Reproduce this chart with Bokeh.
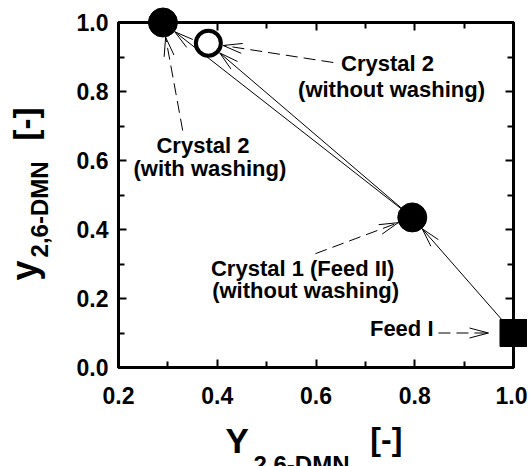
import numpy as np
from bokeh.plotting import figure
from bokeh.models import Range1d, LinearAxis, FixedTicker, NumeralTickFormatter
from bokeh.core.properties import value
from bokeh.embed import file_html
from bokeh.resources import INLINE

# ---------------- data ----------------
point_names = ["Feed I", "Crystal 1 (Feed II)", "Crystal 2 (without washing)", "Crystal 2 (with washing)"]
Y_26DMN = [1.00, 0.795, 0.382, 0.29]      # x values
y_26DMN = [0.10, 0.435, 0.94, 1.00]       # y values
marker_kind = ["square", "circle", "circle", "circle"]

# process arrows (index from -> index to)
process_links = [(0, 1), (1, 3), (1, 2)]

x_ticks = [0.2, 0.4, 0.6, 0.8, 1.0]
x_minor = [0.3, 0.5, 0.7, 0.9]
y_ticks = [0.0, 0.2, 0.4, 0.6, 0.8, 1.0]
y_minor = [0.1, 0.3, 0.5, 0.7, 0.9]

# annotation texts: lines, line anchors (data), align, dashed-arrow start (data), target index
annotations = [
    (["Crystal 2", "(without washing)"], [(0.745, 0.861), (0.753, 0.786)], "center", (0.635, 0.884), 2),
    (["Crystal 2", "(with washing)"], [(0.371, 0.623), (0.385, 0.557)], "center", (0.330, 0.687), 3),
    (["Crystal 1 (Feed II)", "(without washing)"], [(0.573, 0.267), (0.579, 0.203)], "center", (0.599, 0.330), 1),
    (["Feed I"], [(0.838, 0.093)], "right", (0.848, 0.10), 0),
]

# axis titles: pieces (text, x, y, size px) in data units (baseline anchors)
x_title = [("Y", 0.4167, -0.246, 35), ("2,6-DMN", 0.4734, -0.304, 24), ("[-]", 0.710, -0.238, 32)]
y_title = [("y", 0.034, 0.252, 36), ("2,6-DMN", 0.056, 0.319, 24), ("[-]", 0.034, 0.658, 33)]

# ---------------- layout ----------------
X0, X1, Y0, Y1 = 0.2, 1.0, 0.0, 1.0
FW, FH = 395, 345
SX = FW / (X1 - X0)
SY = FH / (Y1 - Y0)
FONT = "Liberation Sans"
BASE_SHIFT = 0.33   # em: lift of the drawn baseline

p = figure(frame_width=FW, frame_height=FH,
           x_range=Range1d(X0, X1), y_range=Range1d(Y0, Y1),
           min_border_left=118, min_border_right=14, min_border_top=22, min_border_bottom=99,
           output_backend="svg", toolbar_location=None)
p.background_fill_color = "white"
p.border_fill_color = "white"
p.grid.visible = False
p.outline_line_color = "black"
p.outline_line_width = 3

def style_axis(ax, ticks, minor, show_labels, standoff=0):
    ax.ticker = FixedTicker(ticks=ticks, minor_ticks=minor)
    ax.formatter = NumeralTickFormatter(format="0.0")
    ax.axis_line_width = 3
    ax.axis_line_color = "black"
    ax.major_tick_in = 8
    ax.major_tick_out = 0
    ax.minor_tick_in = 6
    ax.minor_tick_out = 0
    ax.major_tick_line_width = 2
    ax.minor_tick_line_width = 2
    ax.major_tick_line_color = "black"
    ax.minor_tick_line_color = "black"
    ax.major_label_text_font = FONT
    ax.major_label_text_font_style = "bold"
    ax.major_label_text_color = "black"
    ax.major_label_standoff = standoff
    ax.major_label_text_font_size = "23px" if show_labels else "0px"

style_axis(p.xaxis[0], x_ticks, x_minor, True, 19)
style_axis(p.yaxis[0], y_ticks, y_minor, True, 10)

top_ax = LinearAxis()
style_axis(top_ax, x_ticks, x_minor, False)
p.add_layout(top_ax, "above")
right_ax = LinearAxis()
style_axis(right_ax, y_ticks, y_minor, False)
p.add_layout(right_ax, "right")

# ---------------- arrows ----------------
def to_px(x, y):
    return (x - X0) * SX, (y - Y0) * SY

def to_data(u, v):
    return u / SX + X0, v / SY + Y0

def arrow_geom(x0, y0, x1, y1, cut_start, cut_end, L=19.0, W=5.0):
    u0, v0 = to_px(x0, y0)
    u1, v1 = to_px(x1, y1)
    d = np.hypot(u1 - u0, v1 - v0)
    ux, uy = (u1 - u0) / d, (v1 - v0) / d
    su, sv = u0 + ux * cut_start, v0 + uy * cut_start
    tu, tv = u1 - ux * cut_end, v1 - uy * cut_end
    bu, bv = tu - ux * L, tv - uy * L
    w1 = (bu - uy * W, bv + ux * W)
    w2 = (bu + uy * W, bv - ux * W)
    shaft = (to_data(su, sv), to_data(tu, tv))
    heads = [(to_data(*w1), to_data(tu, tv)), (to_data(*w2), to_data(tu, tv))]
    return shaft, heads

solid = dict(x0=[], y0=[], x1=[], y1=[])
dashed = dict(x0=[], y0=[], x1=[], y1=[])
heads = dict(x0=[], y0=[], x1=[], y1=[])

def add_seg(store, a, b):
    store["x0"].append(a[0]); store["y0"].append(a[1])
    store["x1"].append(b[0]); store["y1"].append(b[1])

for i, j in process_links:
    shaft, hd = arrow_geom(Y_26DMN[i], y_26DMN[i], Y_26DMN[j], y_26DMN[j], 0, 15)
    add_seg(solid, *shaft)
    for h in hd:
        add_seg(heads, *h)

for lines, pos, align, start, tgt in annotations:
    cut_end = 25 if marker_kind[tgt] == "square" else 15
    shaft, hd = arrow_geom(start[0], start[1], Y_26DMN[tgt], y_26DMN[tgt], 0, cut_end)
    add_seg(dashed, *shaft)
    for h in hd:
        add_seg(heads, *h)

p.segment(x0="x0", y0="y0", x1="x1", y1="y1", source=solid, line_color="black", line_width=1)
p.segment(x0="x0", y0="y0", x1="x1", y1="y1", source=dashed, line_color="black", line_width=1, line_dash="12 6")
p.segment(x0="x0", y0="y0", x1="x1", y1="y1", source=heads, line_color="black", line_width=1)

# ---------------- markers (overlay level so they may pass the frame edge) ----------------
r1 = p.scatter(x=[Y_26DMN[0]], y=[y_26DMN[0]], marker="square", size=27, fill_color="black", line_color="black")
r2 = p.scatter(x=[Y_26DMN[k] for k in (1, 3)], y=[y_26DMN[k] for k in (1, 3)], marker="circle", size=29,
               fill_color="black", line_color="black")
r3 = p.scatter(x=[Y_26DMN[2]], y=[y_26DMN[2]], marker="circle", size=25, fill_color="white",
               line_color="black", line_width=4)
for r in (r1, r2, r3):
    r.level = "overlay"

# ---------------- texts (text glyphs on overlay level: not clipped) ----------------
def txt(x, y, t, size, align="left", rotated=False):
    lift = BASE_SHIFT * size
    if rotated:
        x = x - lift / SX
    else:
        y = y + lift / SY
    r = p.text(x=[x], y=[y], text=[t], text_font=value(FONT), text_font_style="bold",
               text_font_size=f"{size}px", text_color="black", text_align=align,
               text_baseline="alphabetic", angle=(np.pi / 2 if rotated else 0.0))
    r.level = "overlay"

for lines, pos, align, start, tgt in annotations:
    for t, (lx, ly) in zip(lines, pos):
        txt(lx, ly, t, 22, align)

for t, x, y, s in x_title:
    txt(x, y, t, s)
for t, x, y, s in y_title:
    txt(x, y, t, s, rotated=True)

open("out.html", "w").write(file_html(p, INLINE))
